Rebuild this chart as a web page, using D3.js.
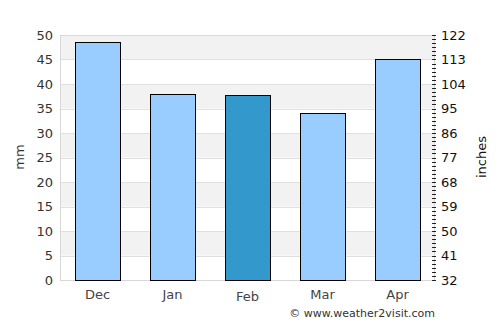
<!DOCTYPE html>
<html>
<head>
<meta charset="utf-8">
<script src="https://cdn.jsdelivr.net/npm/d3@7"></script>
<style>
  body { margin: 0; background: #fff; }
  text { font-family: "DejaVu Sans", sans-serif; }
</style>
</head>
<body>
<svg id="chart"></svg>
<script>
const months = ["Dec", "Jan", "Feb", "Mar", "Apr"];
const rainfall = [48.5, 37.9, 37.7, 34.0, 45.0];
const highlight = "Feb";
const leftTicks = [0, 5, 10, 15, 20, 25, 30, 35, 40, 45, 50];
const rightTicks = [32, 41, 50, 59, 68, 77, 86, 95, 104, 113, 122];

const width = 500;
const height = 325;
const margin = { top: 35, right: 65, bottom: 45, left: 60 };
const innerW = width - margin.left - margin.right;
const innerH = height - margin.top - margin.bottom;

const svg = d3.select("#chart").attr("width", width).attr("height", height);
const g = svg.append("g").attr("transform", "translate(" + margin.left + "," + margin.top + ")");

const xScale = d3.scaleBand().domain(months).range([0, innerW]).paddingInner(0.4).paddingOuter(0.2);
const yScale = d3.scaleLinear().domain([0, 50]).range([innerH, 0]);
const yRight = d3.scaleLinear().domain([32, 122]).range([innerH, 0]);

// alternating shaded bands
const bands = leftTicks.slice(1).filter((d) => d % 10 === 0);
g.selectAll(".band")
  .data(bands)
  .enter()
  .append("rect")
  .attr("x", 0)
  .attr("y", (d) => yScale(d))
  .attr("width", innerW)
  .attr("height", (d) => yScale(d - 5) - yScale(d))
  .attr("fill", "#f2f2f2");

// grid lines
g.selectAll(".grid")
  .data(leftTicks)
  .enter()
  .append("line")
  .attr("x1", 0)
  .attr("x2", innerW)
  .attr("y1", (d) => Math.round(yScale(d)) + 0.5)
  .attr("y2", (d) => Math.round(yScale(d)) + 0.5)
  .attr("stroke", "#e0e0e0");

// plot frame
g.append("line").attr("x1", 0.5).attr("x2", 0.5).attr("y1", 0).attr("y2", innerH).attr("stroke", "#d8d8d8");
g.append("line").attr("x1", innerW - 0.5).attr("x2", innerW - 0.5).attr("y1", 0).attr("y2", innerH).attr("stroke", "#d8d8d8");
g.append("line").attr("x1", 0).attr("x2", innerW).attr("y1", 0.5).attr("y2", 0.5).attr("stroke", "#d8d8d8");
g.append("line").attr("x1", 0).attr("x2", innerW).attr("y1", innerH + 0.5).attr("y2", innerH + 0.5).attr("stroke", "#d8d8d8");

// bars
g.selectAll(".bar")
  .data(months)
  .enter()
  .append("rect")
  .attr("class", "bar")
  .attr("x", (d) => Math.round(xScale(d)) + 0.5)
  .attr("y", (d, i) => Math.round(yScale(rainfall[i])) + 0.5)
  .attr("width", Math.round(xScale.bandwidth()))
  .attr("height", (d, i) => innerH - Math.round(yScale(rainfall[i])))
  .attr("fill", (d) => (d === highlight ? "#3399cc" : "#99ccff"))
  .attr("stroke", "#000")
  .attr("stroke-width", 1);

// left axis labels
g.selectAll(".ly")
  .data(leftTicks)
  .enter()
  .append("text")
  .attr("x", -7)
  .attr("y", (d) => yScale(d))
  .attr("dy", "0.35em")
  .attr("text-anchor", "end")
  .attr("font-size", 13)
  .attr("fill", "#333")
  .text((d) => d);

// right axis minor ticks
const minor = d3.range(32, 122.1, 1.5);
g.selectAll(".minor")
  .data(minor)
  .enter()
  .append("line")
  .attr("x1", innerW - 3)
  .attr("x2", innerW + 1)
  .attr("y1", (d) => Math.round(yRight(d)) + 0.5)
  .attr("y2", (d) => Math.round(yRight(d)) + 0.5)
  .attr("stroke", "#222")
  .attr("stroke-width", 1);

g.selectAll(".ry")
  .data(rightTicks)
  .enter()
  .append("text")
  .attr("x", innerW + 6)
  .attr("y", (d) => yRight(d))
  .attr("dy", "0.35em")
  .attr("text-anchor", "start")
  .attr("font-size", 13)
  .attr("fill", "#111")
  .text((d) => d);

// x labels
g.selectAll(".xl")
  .data(months)
  .enter()
  .append("text")
  .attr("x", (d) => xScale(d) + xScale.bandwidth() / 2)
  .attr("y", (d) => innerH + (d === highlight ? 21 : 19))
  .attr("text-anchor", "middle")
  .attr("font-size", 13)
  .attr("fill", "#444")
  .text((d) => d);

// axis titles
svg.append("text")
  .attr("transform", "translate(24,157) rotate(-90)")
  .attr("text-anchor", "middle")
  .attr("font-size", 13)
  .attr("fill", "#333")
  .text("mm");

svg.append("text")
  .attr("transform", "translate(486,157) rotate(-90)")
  .attr("text-anchor", "middle")
  .attr("font-size", 13)
  .attr("fill", "#111")
  .text("inches");

svg.append("text")
  .attr("x", 435)
  .attr("y", 317)
  .attr("text-anchor", "end")
  .attr("font-size", 11)
  .attr("fill", "#333")
  .text("© www.weather2visit.com");
</script>
</body>
</html>
